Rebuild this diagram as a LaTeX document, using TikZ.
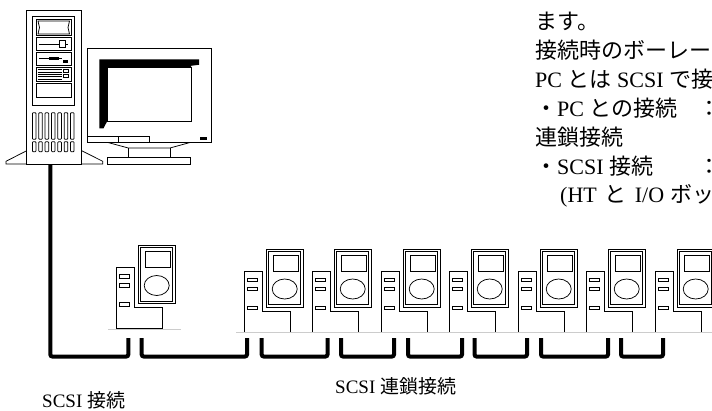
\documentclass[tikz,border=0pt]{standalone}
\usepackage{fontspec}
\setmainfont{Liberation Serif}
\newfontfamily\jpfont{Noto Sans CJK JP}
\newcommand{\J}[1]{{\jpfont #1}}
\tikzset{
  devline/.style={draw=black,line width=0.75pt},
  cable/.style={line width=4pt,rounded corners=2pt},
  floorline/.style={draw=black!20,line width=0.8pt},
  memo/.style={anchor=base west,inner sep=0pt,font=\fontsize{22}{29}\selectfont},
  caption/.style={anchor=base west,inner sep=0pt,font=\fontsize{19}{23}\selectfont}
}
% one HT + I/O box, origin at top left corner of the box
\newcommand{\iounit}[2]{
  \begin{scope}[shift={(#1,#2)}]
    \draw[devline] (0,0) -- (18,0) -- (18,40) -- (46,40) -- (46,61) -- (0,61) -- cycle;
    \foreach \yy in {7,16,35} \draw[devline] (3,\yy) rectangle (13,\yy+3.5);
    \draw[devline] (22,-22) rectangle (59,36);
    \draw[devline] (24.2,-19.8) rectangle (56.8,33.8);
    \draw[devline] (29,-16) rectangle (54,0);
    \draw[devline] (40.7,18) ellipse [x radius=12.5,y radius=10];
  \end{scope}
}

\begin{document}
\begin{tikzpicture}[x=1pt,y=-1pt]
  \useasboundingbox (0,0) rectangle (712,410);
  \clip (0,0) rectangle (712,410);

  % PC tower
  \draw[devline] (26.7,10) rectangle (81.7,164);
  \draw[devline] (26.7,150.7) -- (6,161.3) -- (6,164) -- (26.7,164);
  \draw[devline] (81.7,150.7) -- (102.7,161.3) -- (102.7,164) -- (81.7,164);
  \draw[devline] (32.7,16.5) rectangle (74.7,105.5);
  \draw[devline] (36.5,19.5) rectangle (71,35.5);
  \draw[devline] (38,21) -- (69.5,21) -- (68,27.5) -- (69.5,34) -- (38,34) -- (39.5,27.5) -- cycle;
  \draw[devline] (36.5,37.3) rectangle (71,50);
  \draw[devline] (39,44) -- (68,44);
  \draw[devline,fill=white] (59,40.5) rectangle (65,47);
  \draw[devline] (36.5,52.7) rectangle (71,65.5);
  \draw[devline] (39,58.5) -- (62,58.5);
  \fill (49,56.8) rectangle (59,60.2);
  \fill (63,60) rectangle (68,62.7);
  \draw[devline] (36.5,67) rectangle (71,81);
  \foreach \yy in {69.7,72,74.3,76.6,78.9} \draw[line width=0.5pt] (37.5,\yy) -- (61.5,\yy);
  \draw[devline] (63,69.7) rectangle (68.5,72.7);
  \draw[devline] (63,74) rectangle (68.5,77);
  \draw[devline] (36.5,83.3) rectangle (71,97);
  \foreach \i in {0,...,6}{
    \draw[devline,rounded corners=0.8pt] ({32.4+6.35*\i},112.7) rectangle +(3.6,26.6);
    \draw[devline,rounded corners=0.8pt] ({32.4+6.35*\i},141.7) rectangle +(3.6,10);
  }
  \coordinate (pc) at (50.3,164);

  % monitor
  \draw[devline] (87.3,48.5) rectangle (211,142.5);
  \fill (99.3,59.3) -- (199,59.3) -- (199,64.8) -- (191,65.8) -- (191,67.3) -- (107.3,67.3)
        -- (107.3,121) -- (103.5,128.3) -- (99.3,128.3) -- cycle;
  \draw[devline] (107.3,67.3) rectangle (191,121);
  \draw[devline] (87.3,136.7) -- (149.3,136.7) -- (149.3,142.5);
  \draw[devline] (118.3,136.7) -- (118.3,142.5);
  \fill (200,136.5) rectangle (206.5,139.5);
  \draw[devline] (108,142.5) -- (128.3,148) -- (170,148) -- (190,142.5);
  \draw[devline] (128.3,148) -- (128.3,157.5);
  \draw[devline] (170,148) -- (170,157.5);
  \draw[devline] (107.3,157.7) rectangle (190.7,164);

  % HT + I/O units
  \iounit{116}{267.5}
  \foreach \x in {244,312,381,449,518,586,655} \iounit{\x}{271}
  \draw[floorline] (108,329.3) -- (181,329.3);
  \draw[floorline] (236,332.3) -- (712,332.3);

  % SCSI cables
  \coordinate (bus) at (0,356.5);
  \foreach \nm/\x in {d1a/128.3,d1b/141.7,d2a/247,d2b/261.7,d3a/327.5,d3b/341,d4a/394,d4b/408,
                      d5a/462,d5b/474.5,d6a/527,d6b/541,d7a/608,d7b/621,d8a/663}
    \coordinate (\nm) at (\x,338);
  \foreach \s/\t in {pc/d1a,d1b/d2a,d2b/d3a,d3b/d4a,d4b/d5a,d5b/d6a,d6b/d7a,d7b/d8a}
    \draw[cable] (\s) -- (\s |- bus) -- (\t |- bus) -- (\t);

  % text
  \foreach \txt [count=\k from 0] in {
      {\J{ます。}},
      {\J{接続時のボーレー}},
      {PC \J{とは} SCSI \J{で接}},
      {\makebox[163pt][l]{\J{・}PC \J{との接続}}\J{：}},
      {\J{連鎖接続}},
      {\makebox[163pt][l]{\J{・}SCSI \J{接続}}\J{：}},
      {\hspace*{25pt}(HT\hspace{8pt}\J{と}\hspace{8pt}I/O\hspace{6pt}\J{ボッ}}}
    \node[memo] (m\k) at (535,{29.5+28.9*\k}) {\txt};
  \node[caption] (cap1) at (42,407) {SCSI \J{接続}};
  \node[caption] (cap2) at (335,393.5) {SCSI \J{連鎖接続}};
\end{tikzpicture}
\end{document}
